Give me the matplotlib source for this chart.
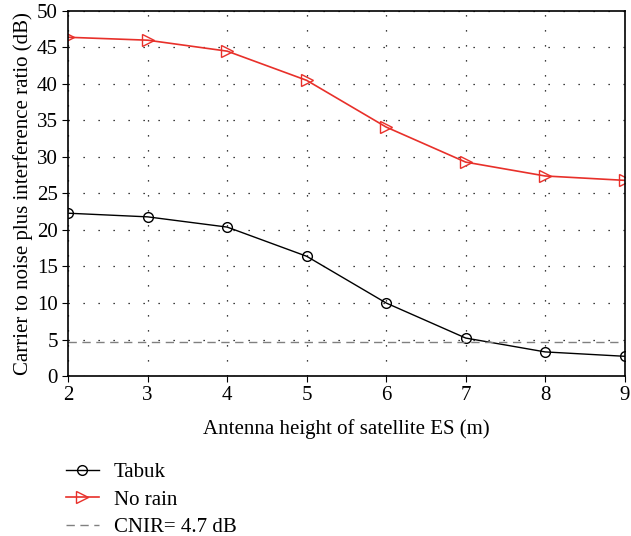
import matplotlib
matplotlib.use('Agg')
import matplotlib.pyplot as plt

plt.rcParams['font.family'] = ['Liberation Serif', 'DejaVu Serif']

height = [2, 3, 4, 5, 6, 7, 8, 9]
tabuk = [22.3, 21.8, 20.4, 16.4, 10.0, 5.2, 3.3, 2.7]
no_rain = [46.4, 46.0, 44.5, 40.5, 34.1, 29.3, 27.4, 26.8]
cnir = 4.7

fig = plt.figure(figsize=(6.31, 5.36), dpi=100)
ax = fig.add_axes([0.108, 0.2985, 0.882, 0.681])

l1, = ax.plot(height, tabuk, color='black', lw=1.0, marker='o', ms=7,
              mfc='none', mec='black', mew=1.0, label='Tabuk')
l2, = ax.plot(height, no_rain, color='#e8302a', lw=1.2, marker='>', ms=8,
              mfc='none', mec='#e8302a', mew=1.0, label='No rain')
l3 = ax.axhline(cnir, color='#808080', lw=1.0, ls=(0, (6, 4)), label='CNIR= 4.7 dB')

ax.set_xlim(2, 9)
ax.set_ylim(0, 50)
ax.set_xticks(height)
ax.set_yticks(range(0, 51, 5))
ax.grid(True, color='black', ls=(0, (1, 11)), lw=0.9)
ax.tick_params(direction='out', length=4, labelsize=15)
for s in ax.spines.values():
    s.set_linewidth(1.2)

ax.set_xlabel('Antenna height of satellite ES (m)', fontsize=15, labelpad=10)
ax.set_ylabel('Carrier to noise plus interference ratio (dB)', fontsize=15, labelpad=3)

fig.legend(handles=[l1, l2, l3], loc='upper left', bbox_to_anchor=(0.104, 0.137),
           frameon=False, fontsize=15, handlelength=1.6, labelspacing=0.38,
           handletextpad=0.7, borderaxespad=0, borderpad=0)

fig.savefig('out.png', dpi=100)
